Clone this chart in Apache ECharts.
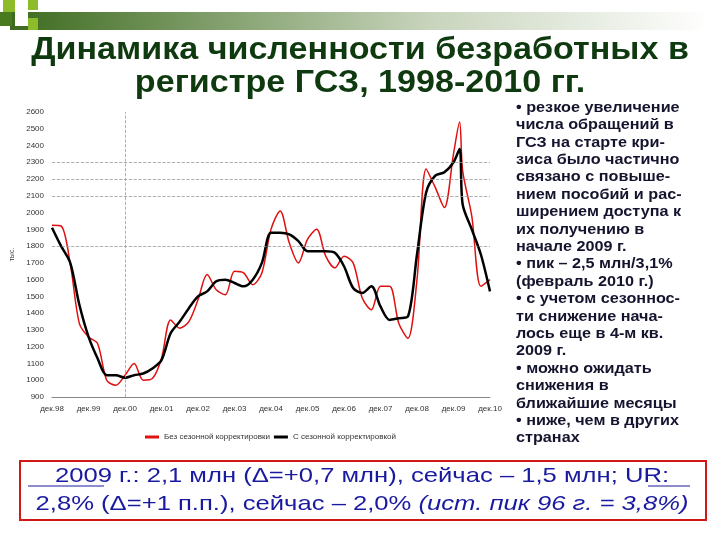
<!DOCTYPE html><html><head><meta charset="utf-8">
<script src="https://cdn.jsdelivr.net/npm/echarts@6/dist/echarts.min.js"></script>
<style>html,body{margin:0;background:#fff}#c{width:720px;height:540px}</style></head><body><div id="c"></div>
<script>
const xMonths=[0,3,6,9,12,15,18,21,24,27,30,33,36,39,42,45,48,51,54,57,60,63,66,69,72,75,78,81,84,87,90,93,96,99,102,105,108,111,114,117,120,123,126,129,132,134,135,138,141,144];
const tickLabels=['дек.98','дек.99','дек.00','дек.01','дек.02','дек.03','дек.04','дек.05','дек.06','дек.07','дек.08','дек.09','дек.10'];
const noAdj=[1924,1920,1695,1338,1258,1218,1000,970,1030,1100,1000,1010,1130,1360,1310,1350,1480,1630,1540,1510,1650,1640,1570,1640,1900,2010,1820,1700,1840,1900,1740,1670,1740,1700,1490,1420,1560,1560,1340,1250,1600,2260,2150,2030,2350,2540,2250,1980,1560,1600];
const adj=[1910,1800,1700,1450,1260,1130,1030,1030,1015,1030,1040,1070,1120,1280,1350,1430,1500,1530,1590,1600,1580,1560,1600,1700,1880,1880,1870,1830,1770,1770,1770,1760,1680,1550,1520,1560,1440,1360,1370,1380,1750,2120,2220,2240,2300,2380,2050,1900,1750,1530];
const sideText=['• резкое увеличение','числа обращений в','ГСЗ на старте кри-','зиса было частично','связано с повыше-','нием пособий и рас-','ширением доступа к','их получению в','начале 2009 г.','• пик – 2,5 млн/3,1%','(февраль 2010 г.)','• с учетом сезоннос-','ти снижение нача-','лось еще в 4-м кв.','2009 г.','• можно ожидать','снижения в','ближайшие месяцы','• ниже, чем в других','странах'];
const pair=a=>xMonths.map((m,i)=>[m,a[i]]);
const ch=echarts.init(document.getElementById('c'));
ch.setOption({
 animation:false,
 grid:{left:52,right:230,top:112,bottom:143},
 xAxis:{type:'value',min:0,max:144,interval:12,axisLine:{lineStyle:{color:'#888'}},axisTick:{show:false},splitLine:{show:false},
  axisLabel:{fontSize:8,color:'#333',formatter:v=>tickLabels[v/12]}},
 yAxis:{type:'value',min:900,max:2600,interval:100,axisLine:{show:false},axisTick:{show:false},splitLine:{show:false},
  name:'тыс.',nameLocation:'middle',nameGap:34,nameTextStyle:{fontSize:7,color:'#333'},axisLabel:{fontSize:8,color:'#333',formatter:v=>String(v)}},
 legend:{bottom:94,left:140,itemWidth:14,itemHeight:3,icon:'rect',itemGap:4,textStyle:{fontSize:8,color:'#333'},
  data:['Без сезонной корректировки','С сезонной корректировкой']},
 series:[
  {name:'Без сезонной корректировки',type:'line',smooth:0.3,showSymbol:false,data:pair(noAdj),lineStyle:{color:'#e01010',width:1.5},itemStyle:{color:'#e01010'},
   markLine:{silent:true,symbol:'none',label:{show:false},lineStyle:{color:'#999',type:'dashed',width:0.8},data:[{yAxis:1800},{yAxis:2100},{yAxis:2200},{yAxis:2300},{xAxis:24}]}},
  {name:'С сезонной корректировкой',type:'line',smooth:0.3,showSymbol:false,data:pair(adj),lineStyle:{color:'#000',width:2.5},itemStyle:{color:'#000'},z:3}
 ],
 graphic:[
  {type:'rect',shape:{x:10,y:12,width:700,height:18},style:{fill:new echarts.graphic.LinearGradient(0,0,1,0,[{offset:0,color:'#3d6b1f'},{offset:0.6,color:'#c8d4bc'},{offset:1,color:'#ffffff'}])}},
  {type:'rect',shape:{x:3,y:0,width:12,height:12},style:{fill:'#8dbb2a'}},
  {type:'rect',shape:{x:28,y:0,width:10,height:10},style:{fill:'#8dbb2a'}},
  {type:'rect',shape:{x:0,y:12,width:12,height:14},style:{fill:'#4a7a1e'}},
  {type:'rect',shape:{x:15,y:12,width:13,height:14},style:{fill:'#fff'}},
  {type:'rect',shape:{x:28,y:18,width:10,height:12},style:{fill:'#8dbb2a'}},
  {type:'text',x:360,y:34,scaleX:1.1,style:{text:'Динамика численности безработных в\nрегистре ГСЗ, 1998-2010 гг.',font:'bold 31px "Liberation Sans",Arial',fill:'#0f3a10',align:'center',lineHeight:33}},
  {type:'text',x:516,y:99,scaleX:1.08,style:{text:sideText.join('\n'),font:'bold 15px "Liberation Sans",Arial',fill:'#14142e',lineHeight:17.4}},
  {type:'rect',shape:{x:20,y:461,width:686,height:59},style:{fill:'none',stroke:'#d01818',lineWidth:2}},
  {type:'text',x:362,y:462,scaleX:1.22,style:{align:'center',
   text:'2009 г.: 2,1 млн (Δ=+0,7 млн), сейчас – 1,5 млн; UR:\n2,8% (Δ=+1 п.п.), сейчас – 2,0% {i|(ист. пик 96 г. = 3,8%)}',
   font:'21px "Liberation Sans",Arial',fill:'#1a1aa0',lineHeight:28,
   rich:{i:{fontSize:21,fontFamily:'Liberation Sans',fontStyle:'italic',fill:'#1a1aa0'}}}},
  {type:'line',shape:{x1:28,y1:486,x2:104,y2:486},style:{stroke:'#1a1aa0',lineWidth:1.2}},
  {type:'line',shape:{x1:648,y1:486,x2:690,y2:486},style:{stroke:'#1a1aa0',lineWidth:1.2}}
 ]
});
</script></body></html>
